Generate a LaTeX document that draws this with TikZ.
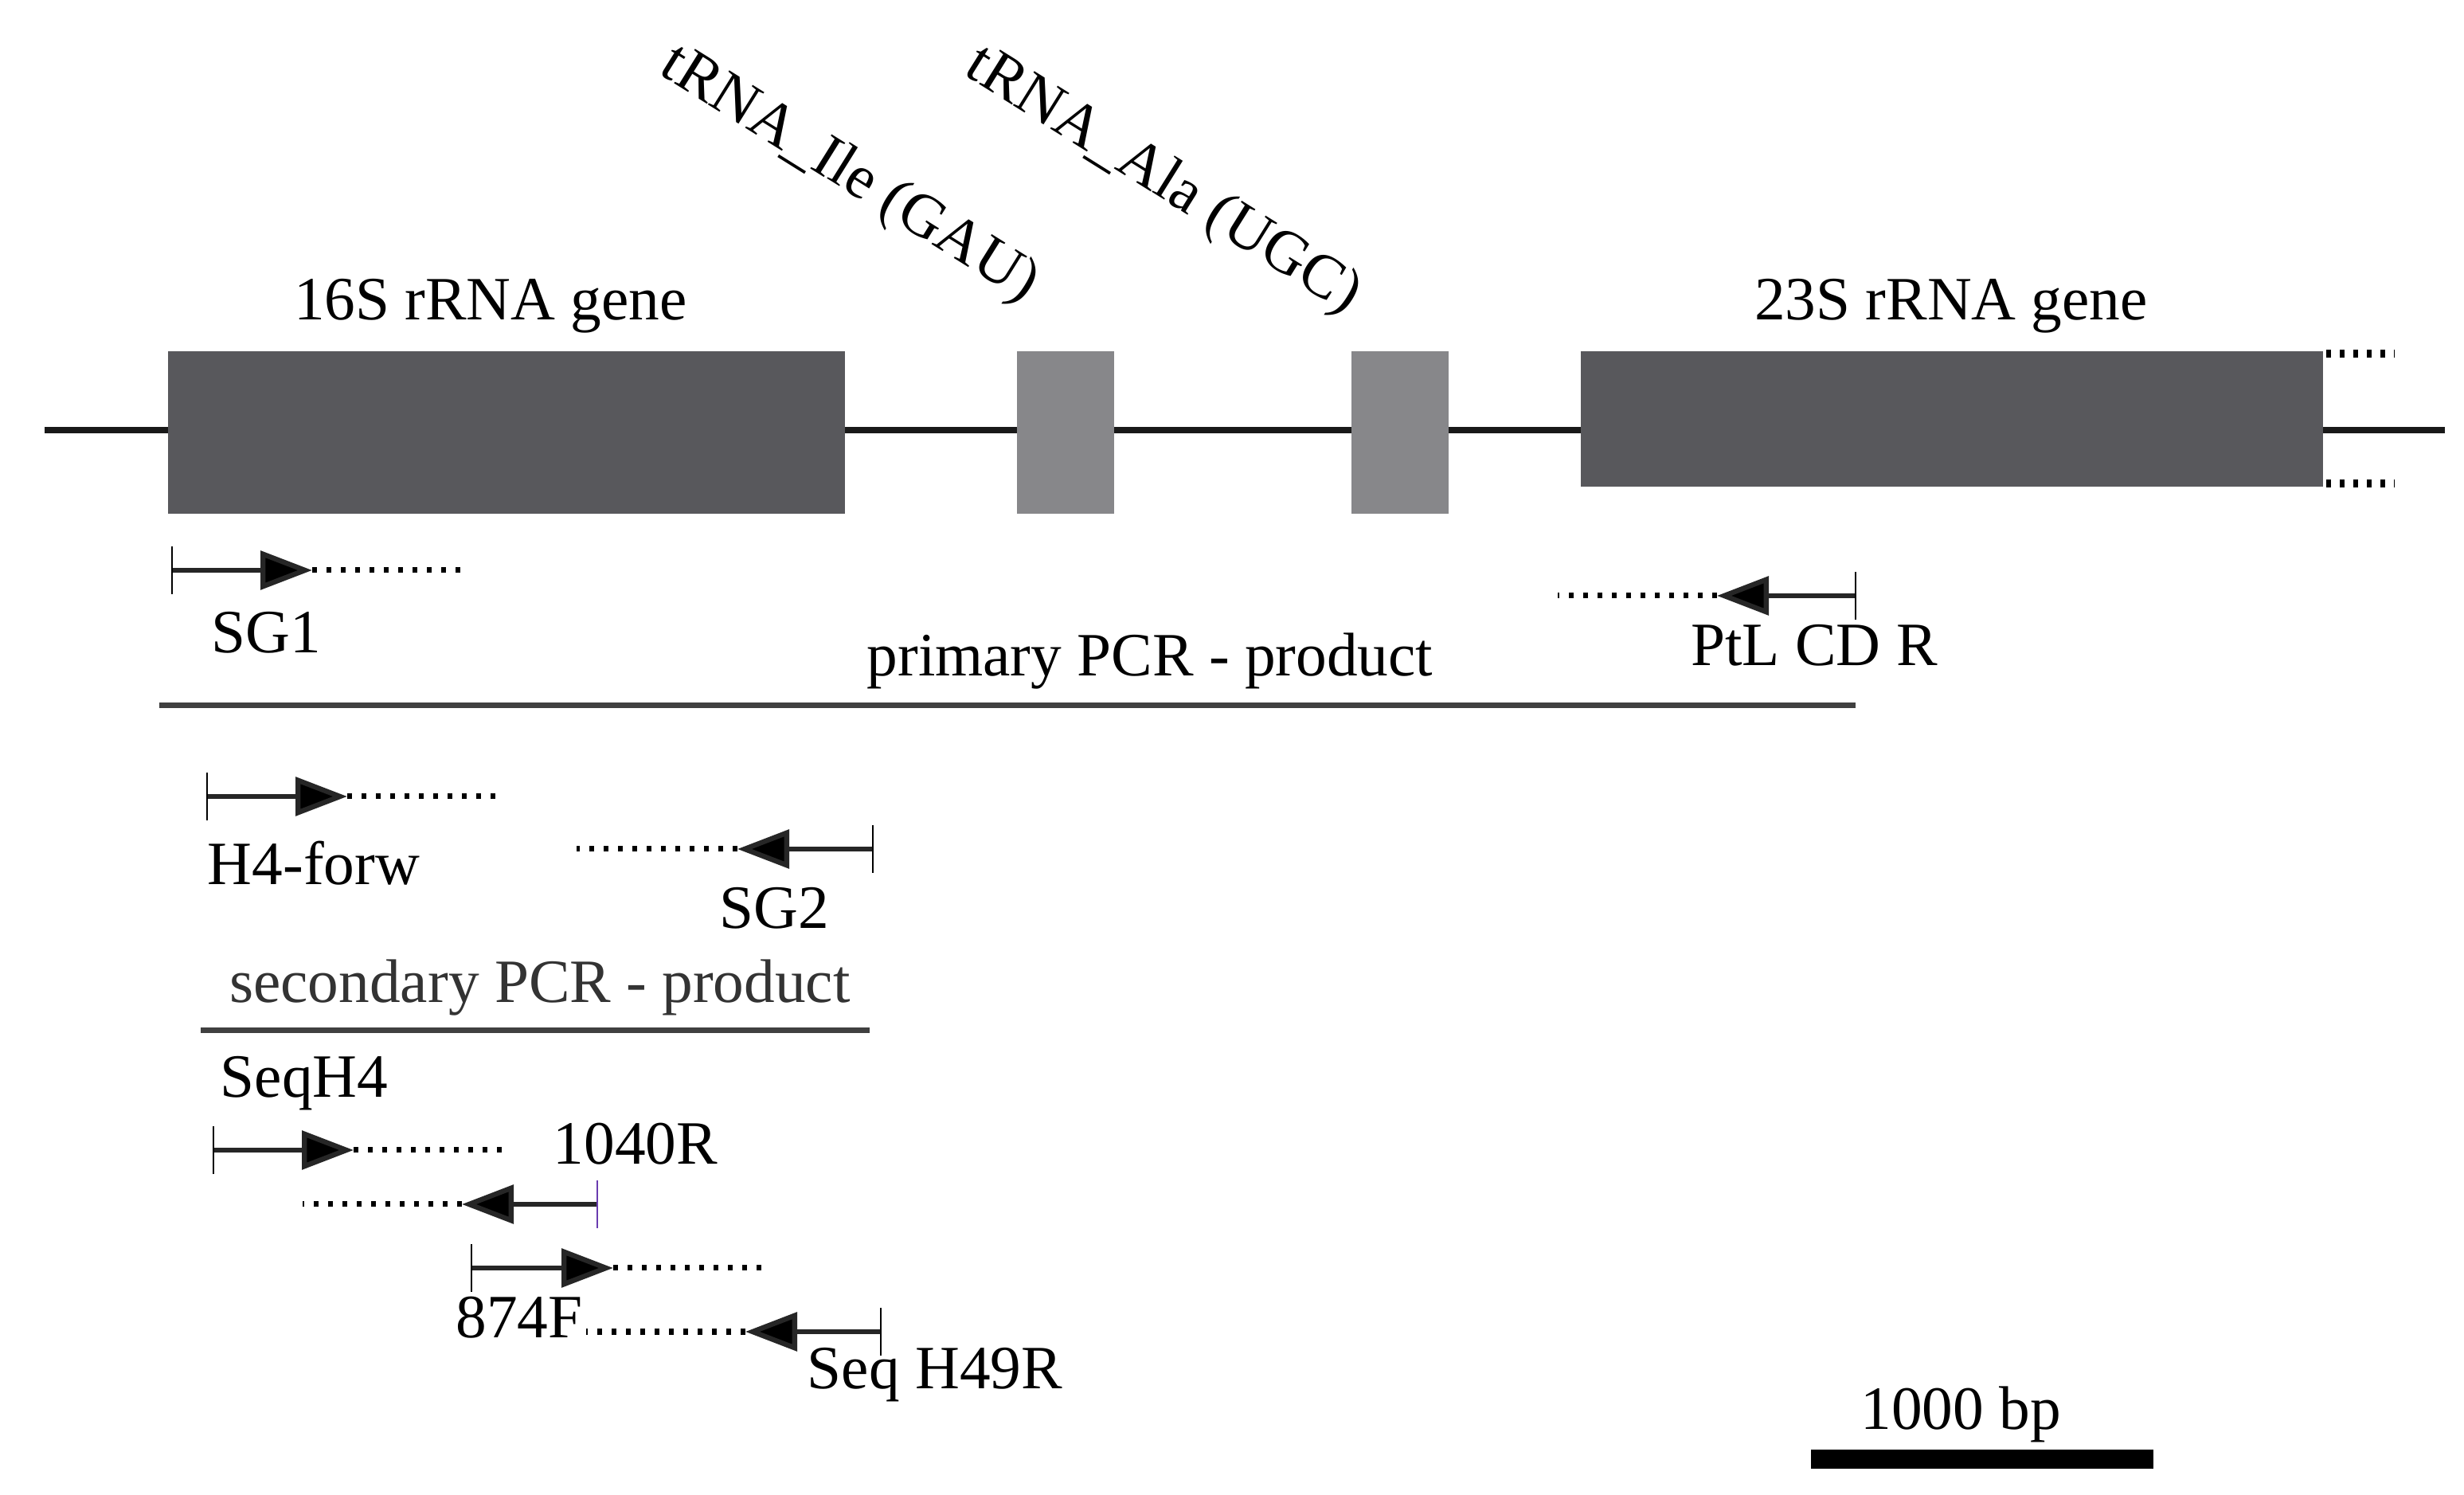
\documentclass[tikz,border=0pt]{standalone}
\usepackage{fontspec}
\setmainfont{Liberation Serif}
\usetikzlibrary{arrows.meta}
\definecolor{genegray}{HTML}{58585C}
\definecolor{trnagray}{HTML}{87878A}
\definecolor{tickviolet}{HTML}{6A3CB0}
\tikzset{
  gene/.style={fill=genegray, draw=none, inner sep=0pt, anchor=north west},
  trna/.style={fill=trnagray, draw=none, inner sep=0pt, anchor=north west},
  lbl/.style={font=\fontsize{22}{26}\selectfont, inner sep=0pt},
  primer/.style={line width=1.8pt, draw=black!85, -{Triangle[length=6.5mm,width=4.8mm,fill=black]}},
  dotline/.style={line width=2pt, dash pattern=on 0.6mm off 1.2mm},
  dotend/.style={line width=2.8pt, dash pattern=on 0.6mm off 1.1mm},
  pcrline/.style={line width=2pt, draw=black!75},
}
\begin{document}
\begin{tikzpicture}
\useasboundingbox (0,0) rectangle (30.94,18.77);
\coordinate (bbl) at (0.56,13.37);
\coordinate (bbr) at (30.70,13.37);
\draw[line width=2.2pt, black!90] (bbl) -- (bbr);
\node[gene, minimum width=8.5cm, minimum height=2.04cm] (rrn16) at (2.10,14.37) {};
\node[trna, minimum width=1.22cm, minimum height=2.04cm] (ile) at (12.76,14.37) {};
\node[trna, minimum width=1.22cm, minimum height=2.04cm] (ala) at (16.96,14.37) {};
\node[gene, minimum width=9.32cm, minimum height=1.70cm] (rrn23) at (19.84,14.37) {};
\draw[dotend] ([xshift=0.4mm,yshift=-0.4mm]rrn23.north east) -- ++(0.86,0);
\draw[dotend] ([xshift=0.4mm,yshift=0.4mm]rrn23.south east) -- ++(0.86,0);

\node[lbl] (l16) at (6.16,14.93) {16S rRNA gene};
\node[lbl] (l23) at (24.50,14.93) {23S rRNA gene};
\node[lbl, rotate=-32] (lile) at (10.66,16.57) {tRNA\_Ile (GAU)};
\node[lbl, rotate=-32] (lala) at (14.60,16.49) {tRNA\_Ala (UGC)};

\foreach \n/\x/\y/\t/\d/\c in {sgone/2.16/11.61/3.92/5.86/black, ptl/23.30/11.29/21.56/19.56/black,
  hfour/2.60/8.77/4.36/6.24/black, sgtwo/10.96/8.11/9.26/7.24/black,
  seqhfour/2.68/4.33/4.44/6.40/black, rten/7.50/3.65/5.80/3.80/tickviolet,
  feight/5.92/2.85/7.70/9.64/black, hnine/11.06/2.05/9.36/7.36/black}
{
  \coordinate (\n-b) at (\x,\y);
  \coordinate (\n-t) at (\t,\y);
  \coordinate (\n-d) at (\d,\y);
  \draw[dotline] (\n-t) -- (\n-d);
  \draw[primer] (\n-b) -- (\n-t);
  \draw[line width=0.8pt, \c] ([yshift=3mm]\n-b) -- ([yshift=-3mm]\n-b);
}

\node[lbl] (lsgone) at (3.34,10.83) {SG1};
\node[lbl] (lptl) at (22.78,10.67) {PtL CD R};
\node[lbl] (lhfour) at (3.94,7.93) {H4-forw};
\node[lbl] (lsgtwo) at (9.72,7.37) {SG2};
\node[lbl] (lseqhfour) at (3.82,5.17) {SeqH4};
\node[lbl] (lrten) at (7.98,4.41) {1040R};
\node[lbl] (lfeight) at (6.52,2.23) {874F};
\node[lbl] (lhnine) at (11.74,1.51) {Seq H49R};

\coordinate (pria) at (2.00,9.91);
\coordinate (prib) at (23.30,9.91);
\draw[pcrline] (pria) -- (prib);
\node[lbl] (lpri) at (14.44,10.47) {primary PCR - product};
\coordinate (seca) at (2.52,5.83);
\coordinate (secb) at (10.92,5.83);
\draw[pcrline] (seca) -- (secb);
\node[lbl, text=black!80] (lsec) at (6.78,6.37) {secondary PCR - product};

\node[fill=black, inner sep=0pt, minimum width=4.3cm, minimum height=0.24cm] (scalebar) at (24.89,0.45) {};
\node[lbl] (lscale) at (24.62,1.01) {1000 bp};
\end{tikzpicture}
\end{document}
